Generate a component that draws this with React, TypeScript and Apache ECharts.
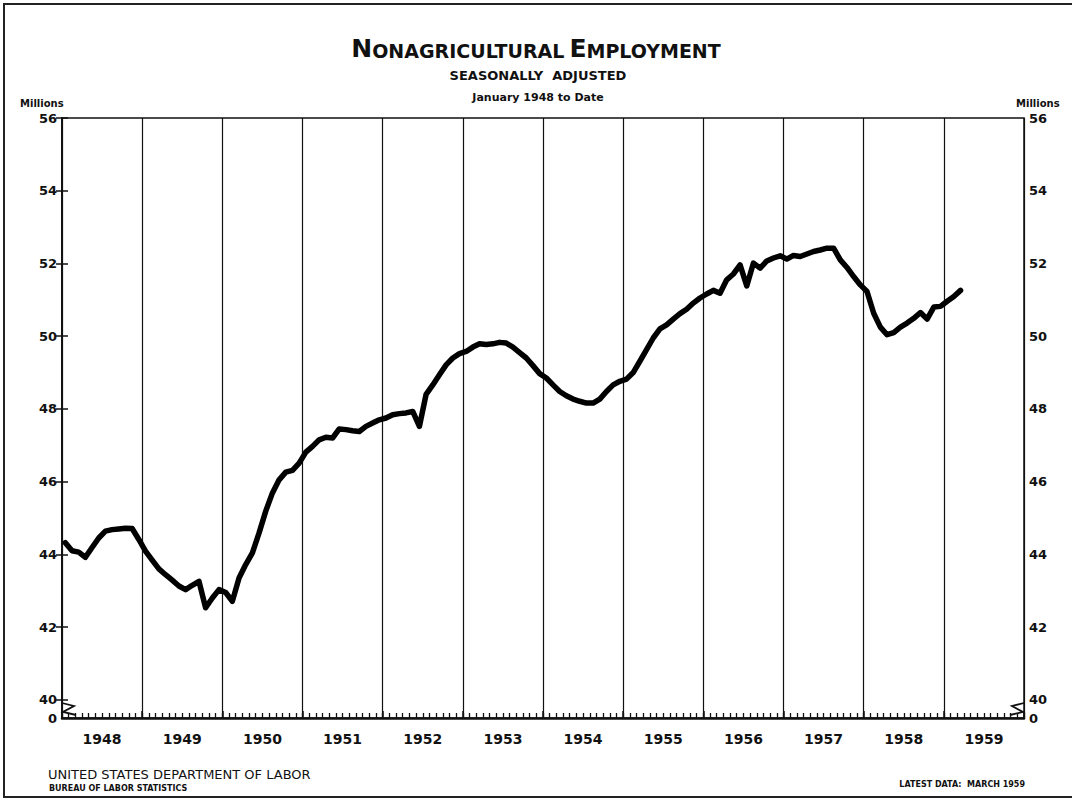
import React, { useEffect, useRef } from "react";
import * as echarts from "echarts";

// Years shown along the bottom axis (one band of 12 months each)
const yearLabels = ["1948", "1949", "1950", "1951", "1952", "1953", "1954", "1955", "1956", "1957", "1958", "1959"];

// Monthly nonagricultural employment, seasonally adjusted (millions), Jan 1948 – Mar 1959
const employment1948 = [44.32, 44.1, 44.06, 43.92, 44.19, 44.45, 44.64, 44.68, 44.7, 44.72, 44.71, 44.41];
const employment1949 = [44.09, 43.84, 43.6, 43.44, 43.29, 43.13, 43.03, 43.15, 43.26, 42.53, 42.8, 43.03];
const employment1950 = [42.95, 42.71, 43.35, 43.72, 44.04, 44.59, 45.19, 45.69, 46.05, 46.26, 46.31, 46.51];
const employment1951 = [46.81, 46.97, 47.15, 47.22, 47.2, 47.45, 47.43, 47.4, 47.38, 47.52, 47.61, 47.7];
const employment1952 = [47.75, 47.84, 47.87, 47.89, 47.93, 47.52, 48.4, 48.66, 48.94, 49.21, 49.4, 49.52];
const employment1953 = [49.58, 49.7, 49.79, 49.77, 49.79, 49.83, 49.81, 49.7, 49.55, 49.4, 49.19, 48.97];
const employment1954 = [48.85, 48.66, 48.48, 48.36, 48.27, 48.21, 48.16, 48.16, 48.27, 48.48, 48.66, 48.76];
const employment1955 = [48.82, 49.0, 49.31, 49.63, 49.95, 50.2, 50.31, 50.47, 50.62, 50.74, 50.91, 51.05];
const employment1956 = [51.16, 51.26, 51.18, 51.55, 51.71, 51.96, 51.38, 52.01, 51.87, 52.07, 52.15, 52.21];
const employment1957 = [52.12, 52.22, 52.19, 52.26, 52.33, 52.37, 52.42, 52.42, 52.1, 51.89, 51.64, 51.41];
const employment1958 = [51.23, 50.63, 50.25, 50.04, 50.1, 50.25, 50.36, 50.49, 50.65, 50.47, 50.8, 50.82];
const employment1959 = [50.96, 51.09, 51.26];

const employment = [
  ...employment1948, ...employment1949, ...employment1950, ...employment1951,
  ...employment1952, ...employment1953, ...employment1954, ...employment1955,
  ...employment1956, ...employment1957, ...employment1958, ...employment1959,
];

const yTickValues = [40, 42, 44, 46, 48, 50, 52, 54, 56];
const axisBottomValue = 39.5; // the broken axis "0"

export default function App() {
  const ref = useRef<HTMLDivElement>(null);

  useEffect(() => {
    if (!ref.current) return;
    const chart = echarts.init(ref.current, null, { renderer: "svg" });
    const font = "DejaVu Sans";
    const ink = "#111";

    const data = employment.map((v, i) => [i + 0.5, v]);
    const yearCenters = yearLabels.map((_, i) => i * 12 + 6);

    const yAxisBase = (position: "left" | "right") => ({
      type: "value",
      position,
      min: axisBottomValue,
      max: 56,
      axisLine: { show: true, lineStyle: { color: ink, width: 1.5 } },
      axisTick: {
        show: true,
        inside: true,
        length: 6,
        customValues: yTickValues,
        lineStyle: { color: ink, width: 1.5 },
      },
      axisLabel: {
        customValues: [axisBottomValue, ...yTickValues],
        formatter: (v: number) => (v < 39.9 ? "0" : String(v)),
        color: ink,
        fontFamily: font,
        fontWeight: "bold",
        fontSize: 13,
        margin: 5,
      },
      splitLine: { show: false },
    });

    chart.setOption({
      animation: false,
      backgroundColor: "#fff",
      title: {
        text: "{b|N}{s|ONAGRICULTURAL} {b|E}{s|MPLOYMENT}",
        left: "center",
        top: 28,
        textStyle: {
          rich: {
            b: { fontFamily: font, fontSize: 25, color: ink, verticalAlign: "bottom", lineHeight: 28 },
            s: { fontFamily: font, fontSize: 19, color: ink, verticalAlign: "bottom", lineHeight: 28, padding: [0, 0, 1, 0] },
          },
        },
      },
      grid: {
        left: 62,
        right: 48,
        top: 118,
        bottom: 81,
        show: true,
        borderColor: ink,
        borderWidth: 1.5,
        backgroundColor: "transparent",
      },
      xAxis: [
        {
          type: "value",
          min: 0,
          max: 144,
          interval: 12,
          axisLine: { show: true, onZero: false, lineStyle: { color: ink, width: 2.5 } },
          axisTick: { show: true, inside: true, length: 7, lineStyle: { color: ink, width: 1.5 } },
          splitLine: { show: true, lineStyle: { color: ink, width: 1.2 } },
          axisLabel: {
            customValues: yearCenters,
            formatter: (v: number) => yearLabels[Math.floor(v / 12)] ?? "",
            color: ink,
            fontFamily: font,
            fontWeight: "bold",
            fontSize: 14,
            margin: 14,
          },
        },
        {
          type: "value",
          position: "bottom",
          min: 0,
          max: 144,
          interval: 1,
          axisLine: { show: false, onZero: false },
          axisTick: { show: true, inside: true, length: 5, lineStyle: { color: ink, width: 1.3 } },
          splitLine: { show: false },
          axisLabel: { show: false },
        },
      ],
      yAxis: [yAxisBase("left"), yAxisBase("right")],
      series: [
        {
          type: "line",
          data,
          xAxisIndex: 0,
          yAxisIndex: 0,
          showSymbol: false,
          symbol: "none",
          lineStyle: { color: "#000", width: 5.5, cap: "round", join: "round" },
          z: 5,
        },
      ],
      graphic: [
        {
          type: "rect",
          shape: { x: 4, y: 4, width: 1080, height: 793 },
          style: { fill: "none", stroke: "#222", lineWidth: 2 },
          silent: true,
        },
        {
          type: "polyline",
          shape: { points: [[62, 703], [74, 706], [63, 712], [76, 715]] },
          style: { fill: "none", stroke: ink, lineWidth: 1.8 },
        },
        {
          type: "polyline",
          shape: { points: [[1024, 703], [1012, 706], [1023, 712], [1010, 715]] },
          style: { fill: "none", stroke: ink, lineWidth: 1.8 },
        },
        {
          type: "text",
          x: 538,
          y: 75,
          style: { text: "SEASONALLY  ADJUSTED", font: `bold 13px "${font}"`, fill: ink, textAlign: "center", textVerticalAlign: "middle" },
        },
        {
          type: "text",
          x: 538,
          y: 97,
          style: { text: "January 1948 to Date", font: `bold 11px "${font}"`, fill: ink, textAlign: "center", textVerticalAlign: "middle" },
        },
        {
          type: "text",
          x: 20,
          y: 103,
          style: { text: "Millions", font: `bold 10px "${font}"`, fill: ink, textAlign: "left", textVerticalAlign: "middle" },
        },
        {
          type: "text",
          x: 1016,
          y: 103,
          style: { text: "Millions", font: `bold 10px "${font}"`, fill: ink, textAlign: "left", textVerticalAlign: "middle" },
        },
        {
          type: "text",
          x: 48,
          y: 774,
          style: { text: "UNITED STATES DEPARTMENT OF LABOR", font: `13px "${font}"`, fill: ink, textAlign: "left", textVerticalAlign: "middle" },
        },
        {
          type: "text",
          x: 49,
          y: 788,
          style: { text: "BUREAU OF LABOR STATISTICS", font: `bold 8px "${font}"`, fill: ink, textAlign: "left", textVerticalAlign: "middle" },
        },
        {
          type: "text",
          x: 1025,
          y: 784,
          style: { text: "LATEST DATA:  MARCH 1959", font: `bold 8px "${font}"`, fill: ink, textAlign: "right", textVerticalAlign: "middle" },
        },
      ],
    });

    return () => chart.dispose();
  }, []);

  return (
    <div
      ref={ref}
      style={{ position: "absolute", left: 0, top: 0, width: 1072, height: 799 }}
    />
  );
}
